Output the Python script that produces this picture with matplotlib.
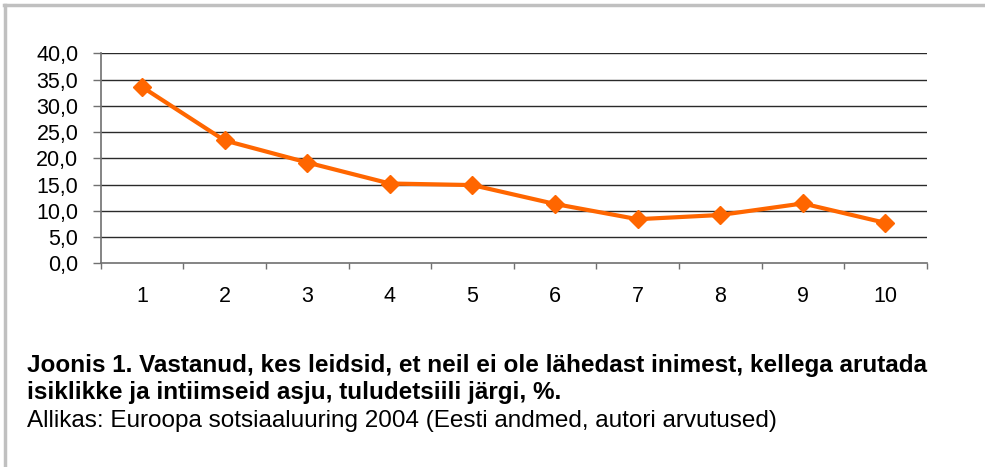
import matplotlib
matplotlib.use("Agg")
import matplotlib.pyplot as plt
from matplotlib.lines import Line2D
import numpy as np

plt.rcParams['font.family'] = ['Liberation Sans', 'DejaVu Sans']

deciles = [1, 2, 3, 4, 5, 6, 7, 8, 9, 10]
values = [33.6, 23.4, 19.2, 15.2, 14.9, 11.3, 8.4, 9.2, 11.4, 7.7]
yticks = [0, 5, 10, 15, 20, 25, 30, 35, 40]
ytick_labels = ["0,0", "5,0", "10,0", "15,0", "20,0", "25,0", "30,0", "35,0", "40,0"]
title_lines = ["Joonis 1. Vastanud, kes leidsid, et neil ei ole lähedast inimest, kellega arutada",
               "isiklikke ja intiimseid asju, tuludetsiili järgi, %."]
source = "Allikas: Euroopa sotsiaaluuring 2004 (Eesti andmed, autori arvutused)"

W, H = 985, 467
fig = plt.figure(figsize=(W/100, H/100), dpi=100)
fig.patch.set_facecolor('white')

ax = fig.add_axes([100.7/W, 1-263.3/H, (926.7-100.7)/W, (263.3-53.3)/H])
ax.set_xlim(0.5, 10.5)
ax.set_ylim(0, 40)
for y in yticks[1:]:
    ax.axhline(y, color='#2a2a2a', lw=1.0, zorder=1)
ax.plot(deciles, values, color='#FF6600', lw=3, marker='D', markersize=9.5,
        markeredgecolor='#FF6600', zorder=3, clip_on=False)

for s in ['top', 'right']:
    ax.spines[s].set_visible(False)
ax.spines['left'].set_color('#707070')
ax.spines['bottom'].set_color('#707070')
ax.spines['left'].set_linewidth(1.2)
ax.spines['bottom'].set_linewidth(1.2)

tick_fs = 15.5
ax.set_yticks(yticks)
ax.set_yticklabels(ytick_labels, fontsize=tick_fs)
ax.tick_params(axis='y', length=5.5, width=1, color='#707070', pad=10.5)
ax.set_xticks(deciles)
ax.set_xticklabels([str(d) for d in deciles], fontsize=tick_fs)
ax.tick_params(axis='x', which='major', length=0, pad=16.5)
ax.set_xticks(np.arange(0.5, 11, 1.0), minor=True)
ax.tick_params(axis='x', which='minor', length=4, width=1, color='#707070')

# frame lines (top and left)
fig.add_artist(Line2D([4/W, 1.0], [1-5/H, 1-5/H], transform=fig.transFigure, color='#c0c0c0', lw=2.5))
fig.add_artist(Line2D([5/W, 5/W], [0, 1-5/H], transform=fig.transFigure, color='#c0c0c0', lw=2.5))

text_fs = 17.5
fig.text(27/W, 1-372/H, title_lines[0], fontsize=text_fs, fontweight='bold', va='baseline', ha='left')
fig.text(27/W, 1-399/H, title_lines[1], fontsize=text_fs, fontweight='bold', va='baseline', ha='left')
fig.text(27/W, 1-427/H, source, fontsize=text_fs, va='baseline', ha='left')

fig.savefig('out.png', dpi=100)
